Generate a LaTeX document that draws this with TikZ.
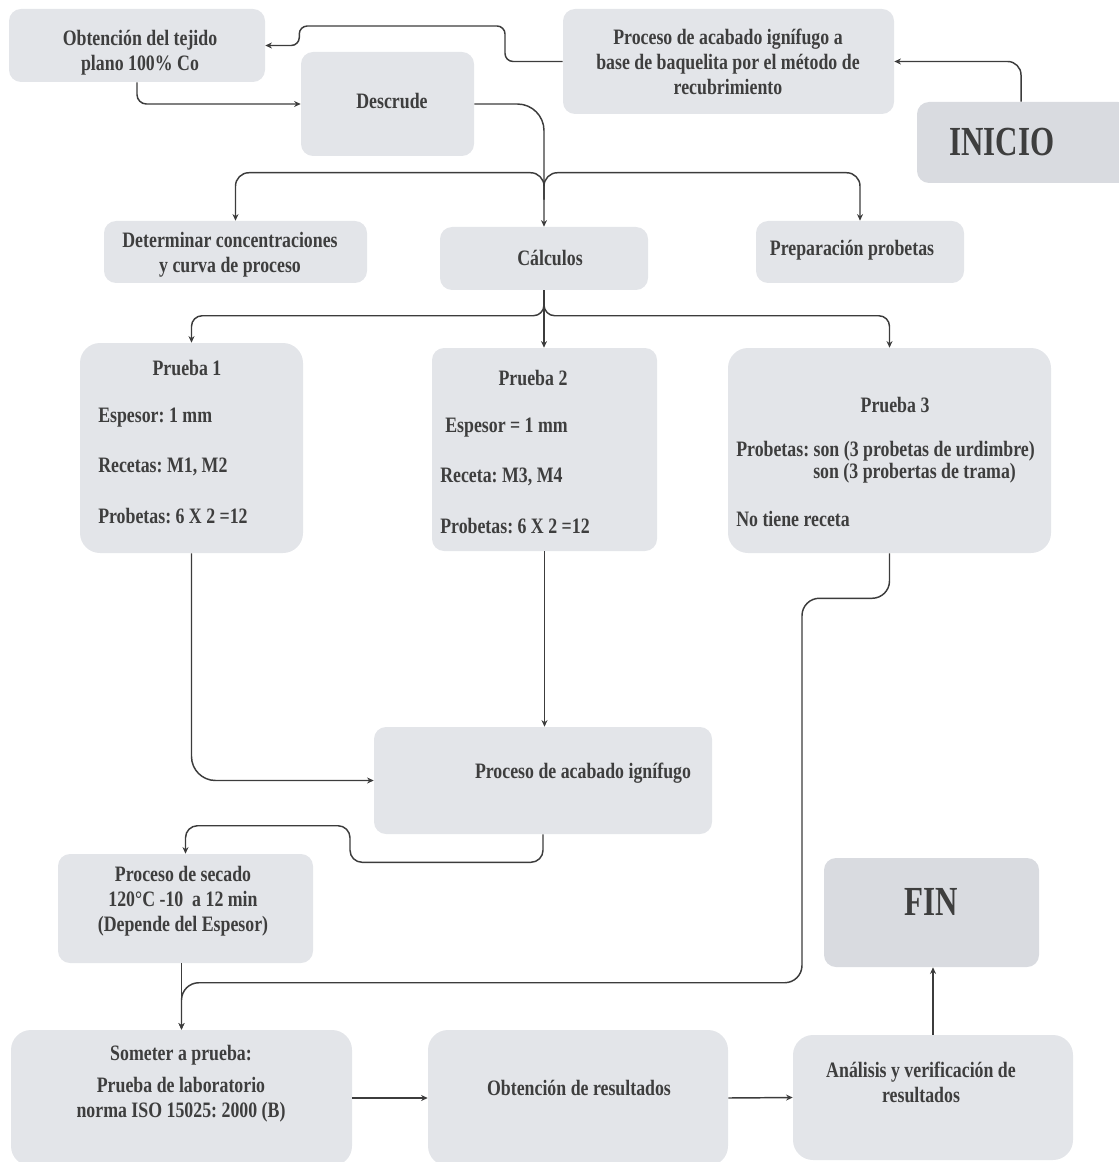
\documentclass[tikz,border=0pt]{standalone}
\usepackage{fontspec}
\setmainfont{Liberation Serif}[FakeStretch=0.81]
\newfontfamily\bigfont{Liberation Serif}[FakeStretch=0.75]
\usetikzlibrary{arrows.meta,fit,calc}
\definecolor{boxfill}{HTML}{E3E5E9}
\definecolor{termfill}{HTML}{D9DBE0}
\definecolor{txt}{HTML}{3E3E3E}
\definecolor{ln}{HTML}{3C3C3C}
\frenchspacing
\begin{document}
\frenchspacing
\begin{tikzpicture}[x=0.75pt,y=-0.75pt,
 box/.style={fill=boxfill, draw=none, rounded corners=9pt, inner sep=0pt},
 bigbox/.style={box, rounded corners=15pt},
 term/.style={box, fill=termfill},
 lbl/.style={text=txt, font=\fontsize{16.5}{18.75}\selectfont\bfseries\frenchspacing, inner sep=0pt, align=center},
 big/.style={text=txt, font=\bigfont\fontsize{31}{34}\selectfont\bfseries, inner sep=0pt},
 arr/.style={draw=ln, line width=1.1pt, -{Stealth[length=5pt,width=4.5pt]}, rounded corners=9pt}]
\useasboundingbox (0,0) rectangle (1118,1162);

% boxes
\node[box, fit={(9,9) (265,82)}] (obt) {};
\node[box, fit={(563,9) (894,114)}] (procA) {};
\node[term, fit={(917,102) (1130,183)}] (ini) {};
\node[box, fit={(301,52) (474,156)}] (desc) {};
\node[box, fit={(104,221) (367,283)}] (det) {};
\node[box, fit={(440,227) (648,290)}] (calc) {};
\node[box, fit={(756,221) (964,283)}] (prep) {};
\node[bigbox, fit={(80,343) (303,553)}] (p1) {};
\node[box, fit={(432,348) (657,551)}] (p2) {};
\node[bigbox, fit={(728,348) (1051,553)}] (p3) {};
\node[box, fit={(374,727) (712,834)}] (procI) {};
\node[box, fit={(58,854) (313,963)}] (sec) {};
\node[term, fit={(824,858) (1039,967)}] (fin) {};
\node[bigbox, fit={(11,1030) (352,1166)}] (som) {};
\node[bigbox, fit={(428,1030) (728,1166)}] (obtR) {};
\node[bigbox, fit={(793,1035) (1073,1160)}] (ana) {};

% texts
\node[lbl] (tobt) at (140,52.5) {Obtención del tejido\\plano 100\% Co};
\node[lbl] (tprocA) at (728,62) {Proceso de acabado ignífugo a\\base de baquelita por el método de\\recubrimiento};
\node[big] (tini) at (1002,142) {INICIO};
\node[lbl] (tdesc) at (392,101) {Descrude};
\node[lbl] (tdet) at (230,255) {Determinar concentraciones\\y curva de proceso};
\node[lbl] (tcalc) at (550,258) {Cálculos};
\node[lbl] (tprep) at (852,250) {Preparación probetas};

\node[lbl] (tp1) at (187,368) {Prueba 1};
\node[lbl, anchor=west] (tp1a) at (98,418) {Espesor: 1 mm};
\node[lbl, anchor=west] (tp1b) at (98,467) {Recetas: M1, M2};
\node[lbl, anchor=west] (tp1c) at (98,516) {Probetas: 6 X 2 =12};

\node[lbl] (tp2) at (533,378) {Prueba 2};
\node[lbl, anchor=west] (tp2a) at (445,428) {Espesor = 1 mm};
\node[lbl, anchor=west] (tp2b) at (440,477) {Receta: M3, M4};
\node[lbl, anchor=west] (tp2c) at (440,526) {Probetas: 6 X 2 =12};

\node[lbl] (tp3) at (895,405) {Prueba 3};
\node[lbl, anchor=west] (tp3a) at (736,451) {Probetas: son (3 probetas de urdimbre)};
\node[lbl, anchor=west] (tp3b) at (813,473) {son (3 probertas de trama)};
\node[lbl, anchor=west] (tp3c) at (736,519) {No tiene receta};

\node[lbl] (tprocI) at (583,773) {Proceso de acabado ignífugo};
\node[lbl] (tsec) at (183,901) {Proceso de secado\\120°C -10~ a 12 min\\(Depende del Espesor)};
\node[big] (tfin) at (931,902) {FIN};

\node[lbl] (tsom1) at (181,1055) {Someter a prueba:};
\node[lbl] (tsom2) at (181,1100) {Prueba de laboratorio\\norma ISO 15025: 2000 (B)};
\node[lbl] (tobtR) at (579,1088) {Obtención de resultados};
\node[lbl] (tana) at (921,1082.5) {Análisis y verificación de\\resultados};

% connectors
\draw[arr, rounded corners=10pt] (ini.north -| 1021,0) |- (procA.east);
\draw[arr, rounded corners=6pt] (procA.west) -| (505,26) -| ($(obt.east)+(34,0)$) -- (obt.east);
\draw[arr, rounded corners=7pt] (obt.south) |- (desc.west);
\draw[arr, rounded corners=20pt] (desc.east) -| (calc.north);
\draw[arr, rounded corners=10pt] ($(calc.north)+(0,-27)$) |- ($(det.north)+(0,-48)$) -- (det.north);
\draw[arr, rounded corners=10pt] ($(calc.north)+(0,-27)$) |- ($(prep.north)+(0,-48)$) -- (prep.north);
\draw[arr] (calc.south) -- (calc.south |- p2.north);
\draw[arr, rounded corners=8pt] ($(calc.south)+(0,10)$) |- ($(p1.north)+(0,-27)$) -- (p1.north);
\draw[arr, rounded corners=8pt] ($(calc.south)+(0,10)$) |- ($(p3.north)+(0,-32)$) -- (p3.north);
\draw[arr, rounded corners=18pt] (p1.south) |- (procI.west);
\draw[arr] (p2.south) -- (p2.south |- procI.north);
\draw[arr, rounded corners=9pt] (procI.south) |- ($(procI.south)+(-193,28)$) |- ($(sec.north)+(0,-28)$) -- (sec.north);
\draw[arr] (som.north |- sec.south) -- (som.north);
\draw[arr, rounded corners=13pt] (p3.south) |- ($(p3.south)+(-87.5,45)$) |- ($(som.north)+(0,-47)$) -- (som.north);
\draw[arr] (som.east) -- (obtR.west);
\draw[arr] (obtR.east) -- (ana.west);
\draw[arr] (ana.north) -- (ana.north |- fin.south);
\end{tikzpicture}
\end{document}
